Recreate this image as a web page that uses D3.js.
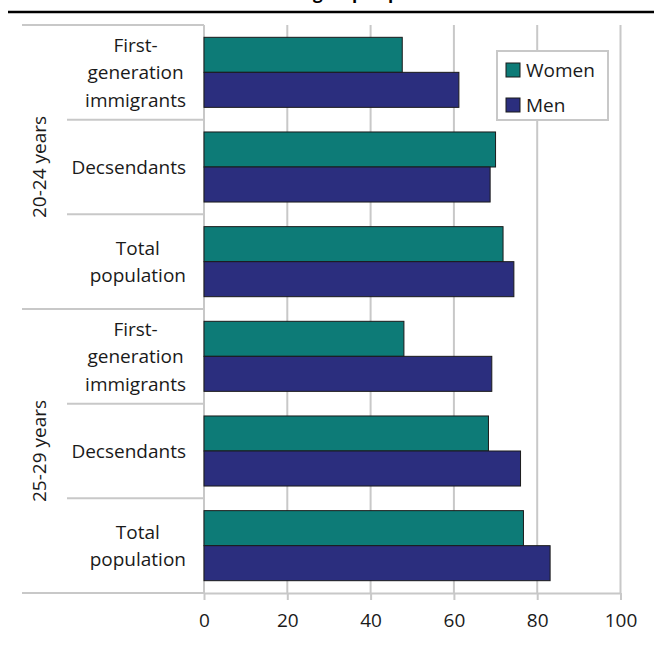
<!DOCTYPE html>
<html>
<head>
<meta charset="utf-8">
<script src="https://cdn.jsdelivr.net/npm/d3@7"></script>
<style>
  html, body { margin: 0; padding: 0; background: #fff; }
  svg { display: block; font-family: "Open Sans", "Noto Sans", sans-serif; }
</style>
</head>
<body>
<svg id="chart" width="654" height="648"></svg>
<script>
// ---- data ----
const titleText = "Labour market attachment in the group in percent";
const groups = ["20-24 years", "25-29 years"];
const categories = ["First-generation immigrants", "Decsendants", "Total population"];
const categoryLines = [["First-", "generation", "immigrants"], ["Decsendants"], ["Total", "population"]];
const seriesNames = ["Women", "Men"];
const women = [47.6, 70.0, 71.8, 48.0, 68.3, 76.7];
const men = [61.2, 68.7, 74.4, 69.1, 76.0, 83.1];
const xTicks = [0, 20, 40, 60, 80, 100];

(function () {
// ---- build rows ----
const rows = [];
groups.forEach((g, gi) => {
  categories.forEach((c, ci) => {
    const i = gi * categories.length + ci;
    rows.push({ id: i, group: g, cat: c, lines: categoryLines[ci], Women: women[i], Men: men[i] });
  });
});

const colors = { Women: "#0d7b77", Men: "#2b2e7e" };
const gridColor = "#c8c8c8";

const svg = d3.select("#chart");
const pLeft = 204, pRight = 620.5, pTop = 25, pBottom = 593;

const x = d3.scaleLinear().domain([0, 100]).range([pLeft, pRight]);
const y = d3.scaleBand().domain(rows.map(d => d.id)).range([pTop, pBottom])
  .paddingInner(0.26).paddingOuter(0.13);
const ySub = d3.scaleBand().domain(seriesNames).range([0, y.bandwidth()]);
const step = y.step();

// ---- title (cropped at top) ----
const title = svg.append("text")
  .attr("y", -1)
  .attr("font-size", 17)
  .attr("font-weight", "bold")
  .attr("fill", "#000")
  .text(titleText);
const gIdx = titleText.indexOf("group");
const pre = title.node().getSubStringLength(0, gIdx);
title.attr("x", 313 - pre);

svg.append("line")
  .attr("x1", 8).attr("x2", 654).attr("y1", 12).attr("y2", 12)
  .attr("stroke", "#000").attr("stroke-width", 2.5);

// ---- gridlines ----
svg.append("g").selectAll("line")
  .data(xTicks.filter(t => t > 0))
  .join("line")
  .attr("x1", d => x(d)).attr("x2", d => x(d))
  .attr("y1", pTop).attr("y2", pBottom)
  .attr("stroke", gridColor).attr("stroke-width", 2);

// ---- category separators ----
const sepG = svg.append("g");
for (let k = 0; k <= rows.length; k++) {
  const yy = pTop + k * step;
  const isGroup = k % categories.length === 0;
  sepG.append("line")
    .attr("x1", isGroup ? 22 : 67).attr("x2", pLeft)
    .attr("y1", yy).attr("y2", yy)
    .attr("stroke", gridColor).attr("stroke-width", 2);
}
// vertical axis line
svg.append("line")
  .attr("x1", pLeft).attr("x2", pLeft).attr("y1", pTop).attr("y2", pBottom)
  .attr("stroke", gridColor).attr("stroke-width", 2);

// ---- bars ----
const barG = svg.append("g");
rows.forEach(r => {
  seriesNames.forEach(s => {
    barG.append("rect")
      .attr("x", x(0))
      .attr("y", y(r.id) + ySub(s))
      .attr("width", x(r[s]) - x(0))
      .attr("height", ySub.bandwidth())
      .attr("fill", colors[s])
      .attr("stroke", "#1b1b1b")
      .attr("stroke-width", 1);
  });
});

// ---- x axis ----
const xAxis = d3.axisBottom(x).tickValues(xTicks).tickSize(7).tickSizeOuter(0).tickPadding(14);
const ax = svg.append("g").attr("transform", `translate(0,${pBottom})`).call(xAxis);
ax.select(".domain").attr("stroke", gridColor).attr("stroke-width", 2);
ax.selectAll(".tick line").attr("stroke", gridColor).attr("stroke-width", 2);
ax.selectAll(".tick text").attr("font-size", 19).attr("fill", "#1a1a1a")
  .attr("font-family", "'Open Sans', sans-serif").attr("dy", "0.71em");

// ---- category labels ----
const labelRight = 186;
const lineH = 27.5;
const labG = svg.append("g").attr("font-size", 19).attr("fill", "#1a1a1a");
rows.forEach(r => {
  const cy = pTop + (r.id + 0.5) * step;
  const t = labG.append("text").attr("text-anchor", "middle");
  const n = r.lines.length;
  r.lines.forEach((ln, i) => {
    t.append("tspan").attr("y", cy + (i - (n - 1) / 2) * lineH + 6.8).text(ln);
  });
  let maxW = 0;
  t.selectAll("tspan").each(function () { maxW = Math.max(maxW, this.getComputedTextLength()); });
  t.selectAll("tspan").attr("x", labelRight - maxW / 2);
});

// ---- group labels ----
groups.forEach((g, gi) => {
  const cy = pTop + (gi + 0.5) * categories.length * step;
  svg.append("text")
    .attr("transform", `translate(46,${cy}) rotate(-90)`)
    .attr("text-anchor", "middle")
    .attr("font-size", 19).attr("fill", "#1a1a1a")
    .text(g);
});

// ---- legend ----
const lg = svg.append("g");
lg.append("rect").attr("x", 497).attr("y", 51).attr("width", 111).attr("height", 69)
  .attr("fill", "#fff").attr("stroke", gridColor).attr("stroke-width", 2);
seriesNames.forEach((s, i) => {
  const yy = 63 + i * 35;
  lg.append("rect").attr("x", 506).attr("y", yy).attr("width", 14).attr("height", 14)
    .attr("fill", colors[s]).attr("stroke", "#1b1b1b").attr("stroke-width", 1);
  lg.append("text").attr("x", 526).attr("y", yy + 13.5)
    .attr("font-size", 19).attr("fill", "#1a1a1a").text(s);
});
})();
</script>
</body>
</html>
